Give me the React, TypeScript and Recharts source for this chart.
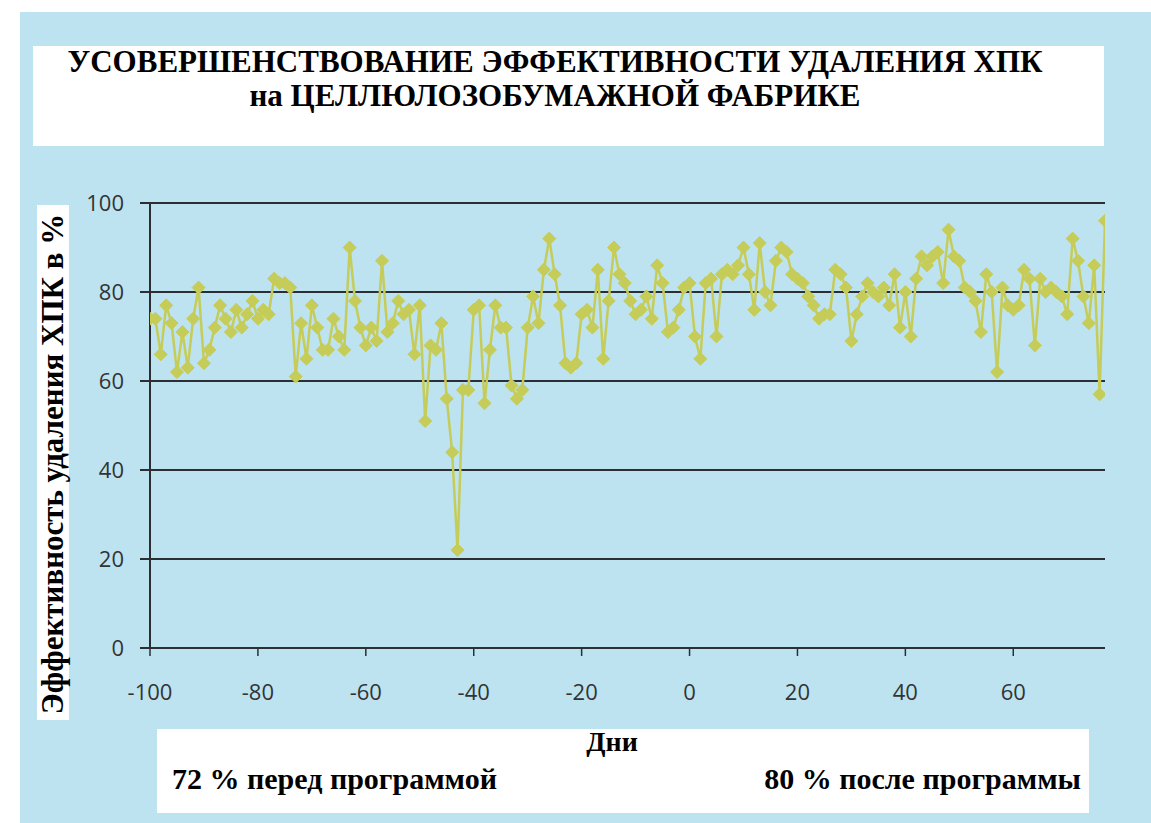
import React from "react";
import { LineChart, Line, XAxis, YAxis, CartesianGrid } from "recharts";

const firstDay = -100;
const efficiency = [
  74, 74, 66, 77, 73, 62, 71, 63, 74, 81,
  64, 67, 72, 77, 74, 71, 76, 72, 75, 78,
  74, 76, 75, 83, 82, 82, 81, 61, 73, 65,
  77, 72, 67, 67, 74, 70, 67, 90, 78, 72,
  68, 72, 69, 87, 71, 73, 78, 75, 76, 66,
  77, 51, 68, 67, 73, 56, 44, 22, 58, 58,
  76, 77, 55, 67, 77, 72, 72, 59, 56, 58,
  72, 79, 73, 85, 92, 84, 77, 64, 63, 64,
  75, 76, 72, 85, 65, 78, 90, 84, 82, 78,
  75, 76, 79, 74, 86, 82, 71, 72, 76, 81,
  82, 70, 65, 82, 83, 70, 84, 85, 84, 86,
  90, 84, 76, 91, 80, 77, 87, 90, 89, 84,
  83, 82, 79, 77, 74, 75, 75, 85, 84, 81,
  69, 75, 79, 82, 80, 79, 81, 77, 84, 72,
  80, 70, 83, 88, 86, 88, 89, 82, 94, 88,
  87, 81, 80, 78, 71, 84, 80, 62, 81, 77,
  76, 77, 85, 83, 68, 83, 80, 81, 80, 79,
  75, 92, 87, 79, 73, 86, 57, 96,
];
const xTicks = [-100, -80, -60, -40, -20, 0, 20, 40, 60];
const yTicks = [0, 20, 40, 60, 80, 100];

const titleLines = [
  "УСОВЕРШЕНСТВОВАНИЕ ЭФФЕКТИВНОСТИ УДАЛЕНИЯ ХПК",
  "на ЦЕЛЛЮЛОЗОБУМАЖНОЙ ФАБРИКЕ",
];
const yLabel = "Эффективность удаления ХПК в %";
const xLabel = "Дни";
const beforeText = "72 % перед программой";
const afterText = "80 % после программы";

const data = efficiency.map((v, i) => ({ day: firstDay + i, value: v }));

const LINE_COLOR = "#c6cc58";
const DARK = "#2b2f33";
const serif = "'Liberation Serif', 'Times New Roman', serif";

const Diamond = (props: any) => {
  const { cx, cy } = props;
  if (cx == null || cy == null) return null;
  const r = 6.5;
  return (
    <polygon
      points={`${cx},${cy - r} ${cx + r},${cy} ${cx},${cy + r} ${cx - r},${cy}`}
      fill={LINE_COLOR}
      stroke={LINE_COLOR}
      strokeWidth={1}
    />
  );
};

export default function App() {
  return (
    <div style={{ position: "absolute", left: 0, top: 0, width: 1151, height: 823, background: "#ffffff", overflow: "hidden" }}>
      <div style={{ position: "absolute", left: 20, top: 12, width: 1131, height: 811, background: "#bde3f1" }} />
      <div style={{ position: "absolute", left: 33, top: 46, width: 1071, height: 100, background: "#ffffff" }} />
      <div
        style={{
          position: "absolute",
          left: 33,
          top: 45,
          width: 1044,
          textAlign: "center",
          fontFamily: serif,
          fontWeight: "bold",
          fontSize: 31,
          lineHeight: "34px",
          color: "#000",
          whiteSpace: "nowrap",
        }}
      >
        <div>{titleLines[0]}</div>
        <div>{titleLines[1]}</div>
      </div>
      <div style={{ position: "absolute", left: 37, top: 205, width: 32, height: 515, background: "#ffffff" }} />
      <div
        style={{
          position: "absolute",
          left: 53,
          top: 464,
          transform: "translate(-50%, -50%) rotate(-90deg)",
          fontFamily: serif,
          fontWeight: "bold",
          fontSize: 31,
          lineHeight: "32px",
          whiteSpace: "nowrap",
          color: "#000",
        }}
      >
        {yLabel}
      </div>
      <div style={{ position: "absolute", left: 157, top: 729, width: 932, height: 84, background: "#ffffff" }} />
      <div
        style={{
          position: "absolute",
          left: 157,
          top: 727,
          width: 910,
          textAlign: "center",
          fontFamily: serif,
          fontWeight: "bold",
          fontSize: 28,
          lineHeight: "30px",
          color: "#000",
        }}
      >
        {xLabel}
      </div>
      <div
        style={{
          position: "absolute",
          left: 172,
          top: 763,
          fontFamily: serif,
          fontWeight: "bold",
          fontSize: 30,
          lineHeight: "32px",
          whiteSpace: "nowrap",
          color: "#000",
        }}
      >
        {beforeText}
      </div>
      <div
        style={{
          position: "absolute",
          right: 1151 - 1081,
          top: 763,
          fontFamily: serif,
          fontWeight: "bold",
          fontSize: 30,
          lineHeight: "32px",
          whiteSpace: "nowrap",
          color: "#000",
        }}
      >
        {afterText}
      </div>
      <div style={{ position: "absolute", left: 0, top: 0 }}>
        <LineChart
          width={1151}
          height={823}
          data={data}
          margin={{ top: 203, right: 46, bottom: 115, left: 90 }}
        >
          <CartesianGrid vertical={false} stroke={DARK} strokeWidth={2} horizontalValues={yTicks} />
          <XAxis
            dataKey="day"
            type="number"
            domain={[-100, 77]}
            ticks={xTicks}
            height={60}
            tickSize={8}
            tickMargin={28}
            axisLine={{ stroke: DARK, strokeWidth: 2 }}
            tickLine={{ stroke: DARK, strokeWidth: 1.5 }}
            tick={{ fill: "#333", fontSize: 22, fontFamily: "'Open Sans', sans-serif" }}
            allowDataOverflow
          />
          <YAxis
            type="number"
            domain={[0, 100]}
            ticks={yTicks}
            width={60}
            tickSize={10}
            tickMargin={16}
            axisLine={{ stroke: DARK, strokeWidth: 2 }}
            tickLine={{ stroke: DARK, strokeWidth: 2 }}
            tick={{ fill: "#333", fontSize: 22, fontFamily: "'Open Sans', sans-serif" }}
          />
          <Line
            type="linear"
            dataKey="value"
            stroke={LINE_COLOR}
            strokeWidth={2.5}
            dot={<Diamond />}
            activeDot={false}
            isAnimationActive={false}
          />
        </LineChart>
      </div>
    </div>
  );
}
